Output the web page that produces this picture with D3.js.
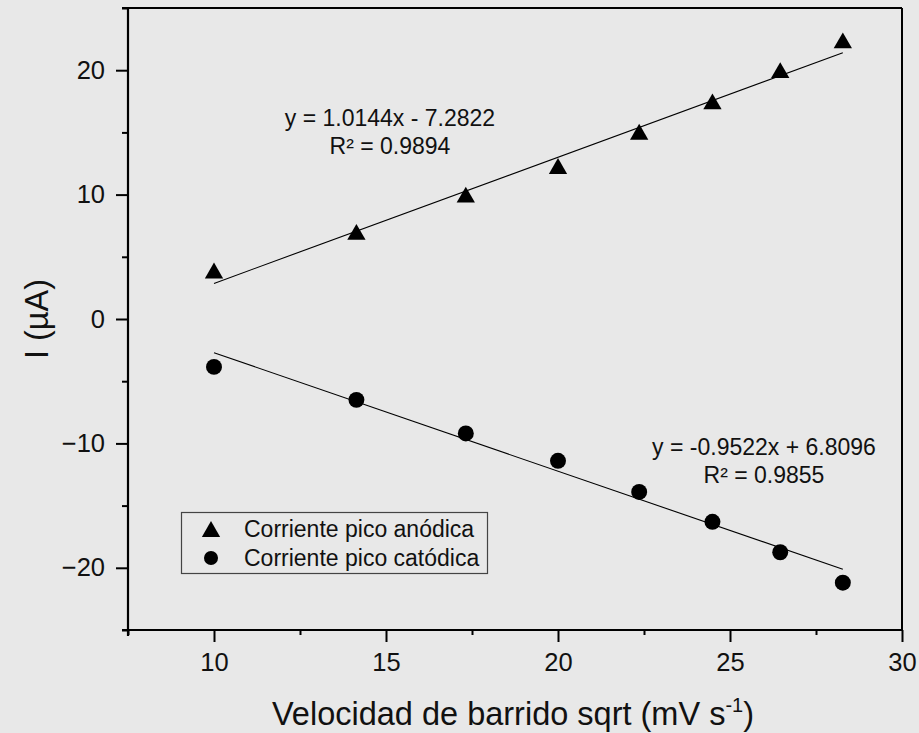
<!DOCTYPE html>
<html>
<head>
<meta charset="utf-8">
<script src="https://cdn.jsdelivr.net/npm/d3@7"></script>
<style>
  html, body { margin: 0; padding: 0; background: #e8e8e8; }
  svg { display: block; font-family: "Liberation Sans", Arial, sans-serif; }
</style>
</head>
<body>
<svg id="chart" width="919" height="733"></svg>
<script>
// Square root of scan rate (mV s^-1)^0.5
const scanRateSqrt = [10, 14.14, 17.32, 20, 22.36, 24.49, 26.46, 28.28];
// Peak currents (µA)
const anodicPeak = [3.9, 7.0, 10.0, 12.3, 15.05, 17.5, 20.0, 22.4];
const cathodicPeak = [-3.85, -6.5, -9.2, -11.4, -13.9, -16.3, -18.75, -21.2];
// Linear fits
const anodicFit = { slope: 1.0144, intercept: -7.2822, r2: "0.9894" };
const cathodicFit = { slope: -0.9522, intercept: 6.8096, r2: "0.9855" };
const xTicks = [10, 15, 20, 25, 30];
const yTicks = [-20, -10, 0, 10, 20];
const seriesNames = ["Corriente pico anódica", "Corriente pico catódica"];

const FONT = "'Liberation Sans', Arial, sans-serif";
const svg = d3.select("#chart");
const m = { left: 128, right: 902, top: 8, bottom: 630 };

const x = d3.scaleLinear().domain([7.5, 30]).range([m.left, m.right]);
const y = d3.scaleLinear().domain([-25, 25]).range([m.bottom, m.top]);

// Upward triangle centred on its bounding box (not its centroid)
const boxTriangle = {
  draw(context, size) {
    const s = Math.sqrt(size * 4 / Math.sqrt(3));
    const h = s * Math.sqrt(3) / 2;
    context.moveTo(0, -h / 2);
    context.lineTo(s / 2, h / 2);
    context.lineTo(-s / 2, h / 2);
    context.closePath();
  }
};

// Frame (top and right)
svg.append("line").attr("x1", m.left - 6).attr("x2", m.right).attr("y1", m.top).attr("y2", m.top)
  .attr("stroke", "#000").attr("stroke-width", 2);
svg.append("line").attr("x1", m.right).attr("x2", m.right).attr("y1", m.top).attr("y2", m.bottom)
  .attr("stroke", "#000").attr("stroke-width", 2);

// Bottom axis
const xMinor = d3.range(7.5, 30.01, 2.5).filter(v => !xTicks.includes(v));
const gx = svg.append("g").attr("transform", `translate(0,${m.bottom})`);
gx.call(d3.axisBottom(x).tickValues(xMinor).tickSize(5).tickFormat(""));
gx.call(g => g.append("g").call(d3.axisBottom(x).tickValues(xTicks).tickSize(12).tickPadding(11)));
gx.selectAll(".domain").remove();
gx.append("line").attr("x1", m.left - 6).attr("x2", m.right + 1).attr("stroke", "#000").attr("stroke-width", 2.2);
gx.selectAll(".tick line").attr("stroke", "#000").attr("stroke-width", 2);
gx.selectAll(".tick text").attr("font-size", 25.5).attr("fill", "#111").attr("font-family", FONT);

// Left axis
const yMinor = d3.range(-25, 25.01, 5).filter(v => !yTicks.includes(v));
const gy = svg.append("g").attr("transform", `translate(${m.left},0)`);
gy.call(d3.axisLeft(y).tickValues(yMinor).tickSize(6).tickFormat(""));
gy.call(g => g.append("g").call(d3.axisLeft(y).tickValues(yTicks).tickSize(12).tickPadding(11)
  .tickFormat(d => d < 0 ? "\u2212" + Math.abs(d) : d)));
gy.selectAll(".domain").remove();
gy.append("line").attr("y1", m.top - 1).attr("y2", m.bottom + 6).attr("stroke", "#000").attr("stroke-width", 2.2);
gy.selectAll(".tick line").attr("stroke", "#000").attr("stroke-width", 2);
gy.selectAll(".tick text").attr("font-size", 25.5).attr("fill", "#111").attr("font-family", FONT);

// Axis titles
svg.append("text").attr("x", 513).attr("y", 725).attr("text-anchor", "middle")
  .attr("font-size", 32.5).attr("fill", "#111")
  .call(t => {
    t.append("tspan").text("Velocidad de barrido sqrt (mV s");
    t.append("tspan").attr("dy", -13).attr("font-size", 20).text("-1");
    t.append("tspan").attr("dy", 13).text(")");
  });
svg.append("text").attr("transform", "translate(48,319) rotate(-90)").attr("text-anchor", "middle")
  .attr("font-size", 32.5).attr("fill", "#111").text("I (µA)");

// Fit lines
const xr = d3.extent(scanRateSqrt);
[anodicFit, cathodicFit].forEach(f => {
  svg.append("line")
    .attr("x1", x(xr[0])).attr("y1", y(f.slope * xr[0] + f.intercept))
    .attr("x2", x(xr[1])).attr("y2", y(f.slope * xr[1] + f.intercept))
    .attr("stroke", "#000").attr("stroke-width", 1.1);
});

// Markers
const tri = d3.symbol().type(boxTriangle).size(145);
const circ = d3.symbol().type(d3.symbolCircle).size(200);
svg.append("g").selectAll("path").data(scanRateSqrt).join("path")
  .attr("d", tri).attr("fill", "#000")
  .attr("transform", (d, i) => `translate(${x(d)},${y(anodicPeak[i])})`);
svg.append("g").selectAll("path").data(scanRateSqrt).join("path")
  .attr("d", circ).attr("fill", "#000")
  .attr("transform", (d, i) => `translate(${x(d)},${y(cathodicPeak[i])})`);

// Fit equations
function eqLabel(cx, by, f) {
  const sign = f.intercept < 0 ? " - " : " + ";
  const txt = `y = ${f.slope.toFixed(4)}x${sign}${Math.abs(f.intercept).toFixed(4)}`;
  svg.append("text").attr("x", cx).attr("y", by).attr("text-anchor", "middle")
    .attr("font-size", 23).attr("fill", "#111").text(txt);
  svg.append("text").attr("x", cx).attr("y", by + 28).attr("text-anchor", "middle")
    .attr("font-size", 23).attr("fill", "#111").text(`R² = ${f.r2}`);
}
eqLabel(390, 126, anodicFit);
eqLabel(764, 455, cathodicFit);

// Legend
const lg = svg.append("g");
lg.append("rect").attr("x", 181.5).attr("y", 512.5).attr("width", 306).attr("height", 61)
  .attr("fill", "none").attr("stroke", "#444").attr("stroke-width", 1.2);
lg.append("path").attr("d", tri).attr("fill", "#000").attr("transform", "translate(211,529)");
lg.append("path").attr("d", d3.symbol().type(d3.symbolCircle).size(155)).attr("fill", "#000").attr("transform", "translate(211,558)");
seriesNames.forEach((n, i) => {
  lg.append("text").attr("x", 244).attr("y", 537 + i * 28.5).attr("font-size", 23).attr("fill", "#111").text(n);
});
</script>
</body>
</html>
